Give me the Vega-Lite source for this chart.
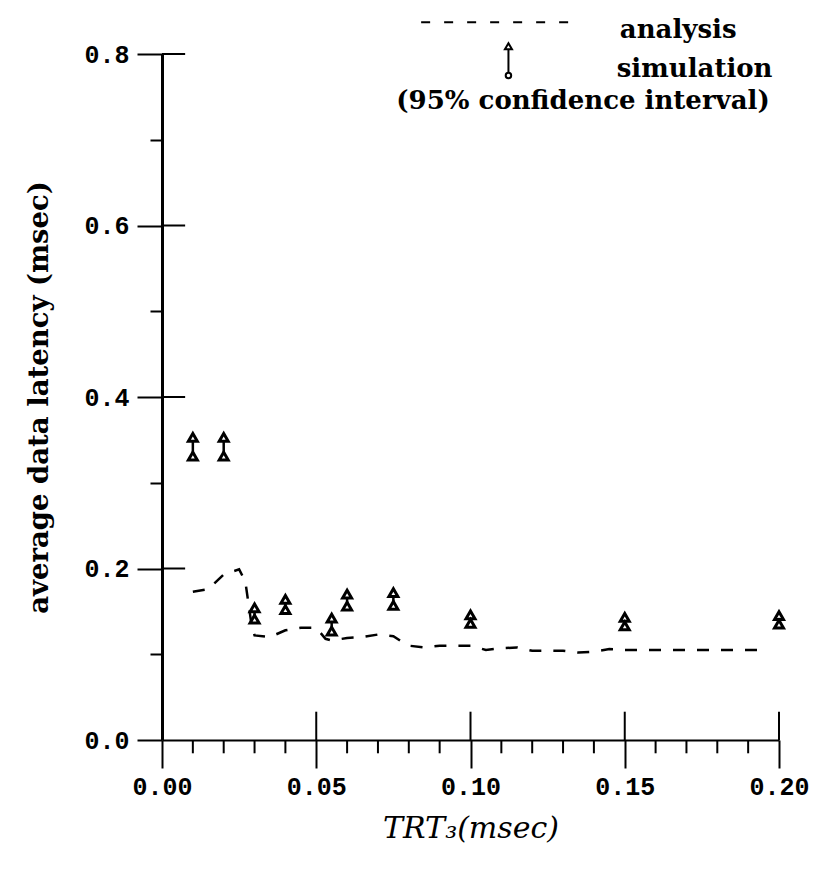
{
  "$schema": "https://vega.github.io/schema/vega-lite/v6.json",
  "autosize": {"type": "none"},
  "width": 617,
  "height": 686,
  "padding": {"left": 162, "top": 54, "right": 39, "bottom": 137},
  "background": "white",
  "config": {"view": {"stroke": null}},
  "datasets": {
    "analysis": [
      {"x": 0.010, "y": 0.173}, {"x": 0.015, "y": 0.176}, {"x": 0.020, "y": 0.193},
      {"x": 0.025, "y": 0.199}, {"x": 0.027, "y": 0.185}, {"x": 0.029, "y": 0.135},
      {"x": 0.030, "y": 0.122}, {"x": 0.035, "y": 0.120}, {"x": 0.040, "y": 0.128},
      {"x": 0.045, "y": 0.131}, {"x": 0.050, "y": 0.131}, {"x": 0.053, "y": 0.118},
      {"x": 0.055, "y": 0.116}, {"x": 0.060, "y": 0.119}, {"x": 0.065, "y": 0.120},
      {"x": 0.070, "y": 0.123}, {"x": 0.075, "y": 0.121}, {"x": 0.078, "y": 0.114},
      {"x": 0.080, "y": 0.110}, {"x": 0.085, "y": 0.108}, {"x": 0.090, "y": 0.110},
      {"x": 0.095, "y": 0.110}, {"x": 0.100, "y": 0.110}, {"x": 0.105, "y": 0.105},
      {"x": 0.110, "y": 0.107}, {"x": 0.115, "y": 0.108}, {"x": 0.120, "y": 0.104},
      {"x": 0.125, "y": 0.104}, {"x": 0.130, "y": 0.104}, {"x": 0.135, "y": 0.102},
      {"x": 0.140, "y": 0.103}, {"x": 0.145, "y": 0.106}, {"x": 0.150, "y": 0.105},
      {"x": 0.160, "y": 0.105}, {"x": 0.170, "y": 0.105}, {"x": 0.180, "y": 0.105},
      {"x": 0.195, "y": 0.105}
    ],
    "simulation": [
      {"x": 0.010, "lo": 0.331, "hi": 0.353},
      {"x": 0.020, "lo": 0.331, "hi": 0.353},
      {"x": 0.030, "lo": 0.141, "hi": 0.154},
      {"x": 0.040, "lo": 0.152, "hi": 0.164},
      {"x": 0.055, "lo": 0.127, "hi": 0.142},
      {"x": 0.060, "lo": 0.156, "hi": 0.170},
      {"x": 0.075, "lo": 0.157, "hi": 0.172},
      {"x": 0.100, "lo": 0.136, "hi": 0.146},
      {"x": 0.150, "lo": 0.133, "hi": 0.143},
      {"x": 0.200, "lo": 0.135, "hi": 0.145}
    ],
    "xmajor": [
      {"x": 0.05, "y": 0, "y2": 0.033}, {"x": 0.10, "y": 0, "y2": 0.033},
      {"x": 0.15, "y": 0, "y2": 0.033}, {"x": 0.20, "y": 0, "y2": 0.033}
    ],
    "xminor": [
      {"x": 0.01}, {"x": 0.02}, {"x": 0.03}, {"x": 0.04},
      {"x": 0.06}, {"x": 0.07}, {"x": 0.08}, {"x": 0.09},
      {"x": 0.11}, {"x": 0.12}, {"x": 0.13}, {"x": 0.14},
      {"x": 0.16}, {"x": 0.17}, {"x": 0.18}, {"x": 0.19}
    ],
    "ymajor": [
      {"y": 0.2, "x": 0, "x2": 0.0075}, {"y": 0.4, "x": 0, "x2": 0.0075},
      {"y": 0.6, "x": 0, "x2": 0.0075}, {"y": 0.8, "x": 0, "x2": 0.0075}
    ],
    "legline": [
      {"x": 0.084, "y": 0.837}, {"x": 0.136, "y": 0.837}
    ],
    "legsym": [
      {"x": 0.1123, "lo": 0.775, "hi": 0.809}
    ],
    "legtext": [
      {"x": 0.1484, "y": 0.828, "label": "analysis", "al": "left"},
      {"x": 0.1474, "y": 0.782, "label": "simulation", "al": "left"},
      {"x": 0.1970, "y": 0.745, "label": "(95% confidence interval)", "al": "right"}
    ]
  },
  "layer": [
    {
      "data": {"name": "analysis"},
      "mark": {"type": "line", "color": "black", "strokeWidth": 2.5, "strokeDash": [12, 12], "clip": false},
      "encoding": {
        "x": {
          "field": "x", "type": "quantitative",
          "scale": {"domain": [0, 0.2], "nice": false, "zero": false},
          "axis": {
            "values": [0, 0.05, 0.1, 0.15, 0.2],
            "tickSize": 28,
            "format": ".2f",
            "labelOverlap": false, "labelFlush": false,
            "labelFont": "Liberation Mono", "labelFontWeight": "bold", "labelFontSize": 25, "labelColor": "black",
            "labelPadding": 6,
            "domainColor": "black", "domainWidth": 2, "tickColor": "black", "tickWidth": 2,
            "grid": false,
            "title": "TRT₃(msec)", "titleFont": "DejaVu Serif", "titleFontStyle": "italic",
            "titleFontWeight": "normal", "titleFontSize": 30, "titleColor": "black", "titlePadding": 14
          }
        },
        "y": {
          "field": "y", "type": "quantitative",
          "scale": {"domain": [0, 0.8], "nice": false, "zero": false},
          "axis": {
            "values": [0, 0.1, 0.2, 0.3, 0.4, 0.5, 0.6, 0.7, 0.8],
            "tickSize": {"condition": {"test": "round(datum.value*10) % 2 == 0", "value": 25}, "value": 12},
            "labelExpr": "round(datum.value*10) % 2 == 0 ? format(datum.value, '.1f') : ''",
            "labelOverlap": false, "labelFlush": false,
            "labelFont": "Liberation Mono", "labelFontWeight": "bold", "labelFontSize": 25, "labelColor": "black",
            "labelPadding": 8,
            "domainColor": "black", "domainWidth": 3, "tickColor": "black", "tickWidth": 2,
            "grid": false,
            "title": "average data latency (msec)", "titleFont": "DejaVu Serif",
            "titleFontWeight": "bold", "titleFontSize": 27.5, "titleColor": "black", "titlePadding": 30
          }
        }
      }
    },
    {
      "data": {"name": "simulation"},
      "mark": {"type": "rule", "color": "black", "strokeWidth": 2.5},
      "encoding": {
        "x": {"field": "x", "type": "quantitative"},
        "y": {"field": "lo", "type": "quantitative"},
        "y2": {"field": "hi"}
      }
    },
    {
      "data": {"name": "simulation"},
      "mark": {"type": "point", "shape": "triangle-up", "filled": true, "fill": "white", "stroke": "black", "strokeWidth": 3, "size": 80, "opacity": 1},
      "encoding": {
        "x": {"field": "x", "type": "quantitative"},
        "y": {"field": "hi", "type": "quantitative"}
      }
    },
    {
      "data": {"name": "simulation"},
      "mark": {"type": "point", "shape": "triangle-up", "filled": true, "fill": "white", "stroke": "black", "strokeWidth": 3, "size": 80, "opacity": 1},
      "encoding": {
        "x": {"field": "x", "type": "quantitative"},
        "y": {"field": "lo", "type": "quantitative"}
      }
    },
    {
      "data": {"name": "xmajor"},
      "mark": {"type": "rule", "color": "black", "strokeWidth": 2},
      "encoding": {
        "x": {"field": "x", "type": "quantitative"},
        "y": {"field": "y", "type": "quantitative"},
        "y2": {"field": "y2"}
      }
    },
    {
      "data": {"name": "xminor"},
      "mark": {"type": "rule", "color": "black", "strokeWidth": 2, "clip": false},
      "encoding": {
        "x": {"field": "x", "type": "quantitative"},
        "y": {"datum": 0, "type": "quantitative"},
        "y2": {"datum": -0.0155}
      }
    },
    {
      "data": {"name": "ymajor"},
      "mark": {"type": "rule", "color": "black", "strokeWidth": 2},
      "encoding": {
        "y": {"field": "y", "type": "quantitative"},
        "x": {"field": "x", "type": "quantitative"},
        "x2": {"field": "x2"}
      }
    },
    {
      "data": {"name": "legline"},
      "mark": {"type": "line", "color": "black", "strokeWidth": 2, "strokeDash": [9, 14], "clip": false},
      "encoding": {
        "x": {"field": "x", "type": "quantitative"},
        "y": {"field": "y", "type": "quantitative"}
      }
    },
    {
      "data": {"name": "legsym"},
      "mark": {"type": "rule", "color": "black", "strokeWidth": 2, "clip": false},
      "encoding": {
        "x": {"field": "x", "type": "quantitative"},
        "y": {"field": "lo", "type": "quantitative"},
        "y2": {"field": "hi"}
      }
    },
    {
      "data": {"name": "legsym"},
      "mark": {"type": "point", "shape": "triangle-up", "filled": true, "fill": "white", "stroke": "black", "strokeWidth": 2, "size": 50, "opacity": 1, "clip": false},
      "encoding": {
        "x": {"field": "x", "type": "quantitative"},
        "y": {"field": "hi", "type": "quantitative"}
      }
    },
    {
      "data": {"name": "legsym"},
      "mark": {"type": "point", "shape": "circle", "filled": true, "fill": "white", "stroke": "black", "strokeWidth": 2, "size": 30, "opacity": 1, "clip": false},
      "encoding": {
        "x": {"field": "x", "type": "quantitative"},
        "y": {"field": "lo", "type": "quantitative"}
      }
    },
    {
      "data": {"name": "legtext"},
      "mark": {"type": "text", "font": "DejaVu Serif", "fontWeight": "bold", "fontSize": 26, "color": "black", "baseline": "middle", "clip": false, "align": {"expr": "datum.al"}},
      "encoding": {
        "x": {"field": "x", "type": "quantitative"},
        "y": {"field": "y", "type": "quantitative"},
        "text": {"field": "label"}
      }
    }
  ]
}
